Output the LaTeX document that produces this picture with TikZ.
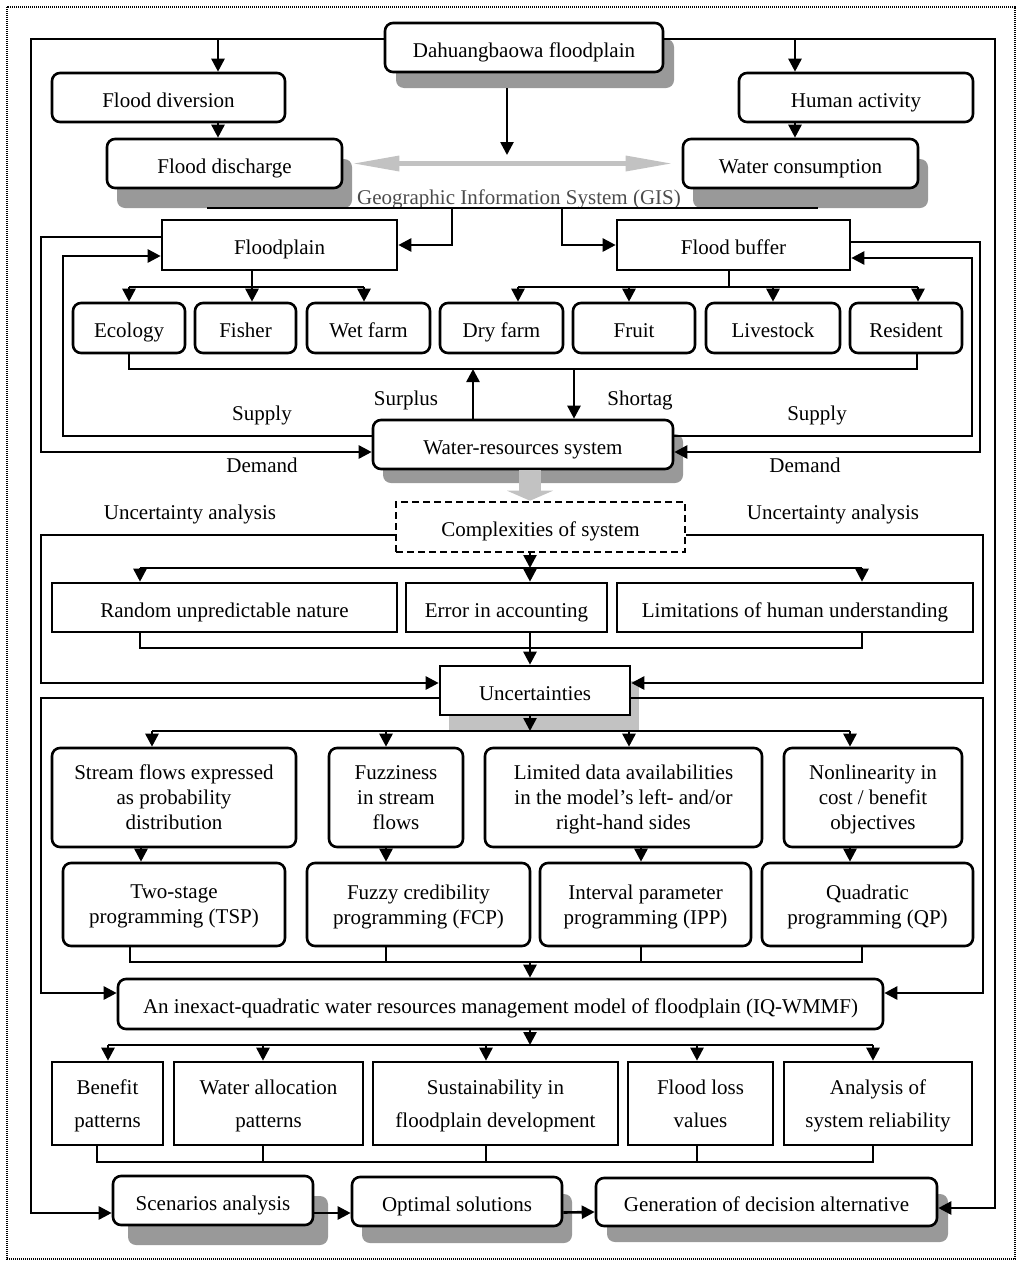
\documentclass[tikz,border=0pt]{standalone}
\usepackage{fontspec}
\setmainfont{Liberation Serif}
\usetikzlibrary{arrows.meta,shadows}
\definecolor{shdgray}{gray}{0.6}
\definecolor{ltgray}{gray}{0.76}
\definecolor{gistext}{gray}{0.3}
\begin{document}
\begin{tikzpicture}[x=1pt,y=-1pt,
  font=\fontsize{21}{25}\selectfont,
  every node/.style={inner sep=0pt,align=center},
  mbox/.style={draw,line width=2.6pt,fill=white,text depth=0pt},
  box/.style={draw,line width=2.6pt,fill=white,minimum height=49pt,text height=20pt,text depth=1pt},
  rbox/.style={box,rounded corners=8pt},
  rmbox/.style={mbox,rounded corners=8pt},
  shd/.style 2 args={general shadow={fill=shdgray,shadow xshift=#1pt,shadow yshift=-#2pt}},
  conn/.style={line width=2.6pt},
  myarr/.style={conn,-{Triangle[length=13pt,width=13pt]}},
  outbox/.style={mbox,font=\fontsize{21}{33}\selectfont,minimum height=83pt}
]
\useasboundingbox (0,0) rectangle (1024,1264);
\draw[line width=2.4pt,dash pattern=on 1.2pt off 0.8pt] (7,7) rectangle (1015,1259);

% ---------- nodes ----------
\node[rbox,shd={11}{16},minimum width=278pt] (dah) at (524,47.5) {Dahuangbaowa floodplain};
\node[rbox,minimum width=233pt] (fdiv) at (168.5,97.5) {Flood diversion};
\node[rbox,minimum width=234pt] (human) at (856,97.5) {Human activity};
\node[rbox,shd={10}{20},minimum width=235pt] (fdis) at (224.5,163.5) {Flood discharge};
\node[rbox,shd={10}{20},minimum width=235pt] (wcons) at (800.5,163.5) {Water consumption};
\node[text=gistext] (gis) at (519,199) {Geographic Information System (GIS)};
\node[box,minimum width=235pt,minimum height=50pt] (fp) at (279.5,245) {Floodplain};
\node[box,minimum width=233pt,minimum height=50pt] (fb) at (733.5,245) {Flood buffer};

\node[rbox,minimum height=50pt,minimum width=112pt] (eco) at (129,328) {Ecology};
\node[rbox,minimum height=50pt,minimum width=101pt] (fisher) at (245.5,328) {Fisher};
\node[rbox,minimum height=50pt,minimum width=123pt] (wet) at (368.5,328) {Wet farm};
\node[rbox,minimum height=50pt,minimum width=123pt] (dry) at (501.5,328) {Dry farm};
\node[rbox,minimum height=50pt,minimum width=122pt] (fruit) at (634,328) {Fruit};
\node[rbox,minimum height=50pt,minimum width=134pt] (live) at (773,328) {Livestock};
\node[rbox,minimum height=50pt,minimum width=112pt] (res) at (906,328) {Resident};

\node[rbox,shd={10}{14},minimum width=300pt] (wr) at (523,444.5) {Water-resources system};

\node (lsup1) at (262,415) {Supply};
\node (ldem1) at (262,465) {Demand};
\node (lsup2) at (817,415) {Supply};
\node (ldem2) at (805,465) {Demand};
\node (lsur) at (406,400) {Surplus};
\node (lsho) at (640,400) {Shortag};
\node (lua1) at (190,514) {Uncertainty analysis};
\node (lua2) at (833,514) {Uncertainty analysis};

\node[box,dash pattern=on 7pt off 4pt,minimum width=289pt,minimum height=50pt] (cx) at (540.5,527) {Complexities of system};
\node[box,minimum width=345pt] (rnd) at (224.5,607.5) {Random unpredictable nature};
\node[box,minimum width=201pt] (err) at (506.5,607.5) {Error in accounting};
\node[box,minimum width=356pt] (lim) at (795,607.5) {Limitations of human understanding};
\node[box,general shadow={fill=ltgray,shadow xshift=9pt,shadow yshift=-15pt},minimum width=190pt] (unc) at (535,690.5) {Uncertainties};

\node[rmbox,minimum width=244pt,minimum height=99pt] (sf) at (174,797.5) {Stream flows expressed\\as probability\\distribution};
\node[rmbox,minimum width=134pt,minimum height=99pt] (fz) at (396,797.5) {Fuzziness\\in stream\\flows};
\node[rmbox,minimum width=277pt,minimum height=99pt] (ld) at (623.5,797.5) {Limited data availabilities\\in the model's left- and/or\\right-hand sides};
\node[rmbox,minimum width=178pt,minimum height=99pt] (nl) at (873,797.5) {Nonlinearity in\\cost / benefit\\objectives};

\node[rmbox,minimum width=222pt,minimum height=83pt] (tsp) at (174,904.5) {Two-stage\\programming (TSP)};
\node[rmbox,minimum width=223pt,minimum height=83pt] (fcp) at (418.5,904.5) {Fuzzy credibility\\programming (FCP)};
\node[rmbox,minimum width=211pt,minimum height=83pt] (ipp) at (645.5,904.5) {Interval parameter\\programming (IPP)};
\node[rmbox,minimum width=211pt,minimum height=83pt] (qp) at (867.5,904.5) {Quadratic\\programming (QP)};

\node[rbox,minimum width=765pt,minimum height=50pt] (iq) at (500.5,1004) {An inexact-quadratic water resources management model of floodplain (IQ-WMMF)};

\node[outbox,minimum width=111pt] (ben) at (107.5,1103.5) {Benefit\\patterns};
\node[outbox,minimum width=189pt] (wal) at (268.5,1103.5) {Water allocation\\patterns};
\node[outbox,minimum width=245pt] (sus) at (495.5,1103.5) {Sustainability in\\floodplain development};
\node[outbox,minimum width=145pt] (fl) at (700.5,1103.5) {Flood loss\\values};
\node[outbox,minimum width=188pt] (asr) at (878,1103.5) {Analysis of\\system reliability};

\node[rbox,shd={15}{20},minimum width=200pt] (scen) at (213,1200.5) {Scenarios analysis};
\node[rbox,shd={10}{17},minimum width=210pt] (opt) at (457,1201.5) {Optimal solutions};
\node[rbox,shd={11}{16},minimum width=341pt,minimum height=48pt] (gen) at (766.5,1202) {Generation of decision alternative};

% ---------- connectors ----------
\draw[myarr] ([yshift=8.5pt]dah.west) -- (31,39) -- (31,1213) -- ([yshift=-12.5pt]scen.west);
\draw[myarr] ([yshift=8.5pt]dah.east) -- (995,39) -- (995,1208) -- ([yshift=-6pt]gen.east);
\coordinate (a1) at (218,39);
\draw[myarr] (a1) -- (a1 |- fdiv.north);
\draw[myarr] (a1 |- fdiv.south) -- (a1 |- fdis.north);
\coordinate (a2) at (795,39);
\draw[myarr] (a2) -- (a2 |- human.north);
\draw[myarr] (a2 |- human.south) -- (a2 |- wcons.north);
\coordinate (a3) at (507,88);
\coordinate (a4) at (507,155);
\draw[myarr] (a3) -- (a4);

\draw[line width=5pt,ltgray,{Triangle[length=45pt,width=16pt,line width=0pt]}-{Triangle[length=45pt,width=16pt,line width=0pt]},shorten <=11pt,shorten >=11pt] (fdis.east) -- (wcons.west);

\coordinate (g1) at (207,208);
\coordinate (g2) at (818,208);
\draw[conn] (g1) -- (g2);
\coordinate (b1) at (452,208);
\coordinate (b2) at (562,208);
\draw[myarr] (b1) |- (fp.east);
\draw[myarr] (b2) |- (fb.west);

\draw[myarr] ([yshift=8pt]fp.west) -| (41,452) -- ([yshift=-7.5pt]wr.west);
\draw[myarr] ([yshift=8.5pt]wr.west) -| (63,256) -- ([yshift=-11pt]fp.west);
\draw[myarr] ([yshift=3pt]fb.east) -| (980,452) -- ([yshift=-7.5pt]wr.east);
\draw[myarr] ([yshift=8.5pt]wr.east) -| (972,258) -- ([yshift=-13pt]fb.east);

\coordinate (s1) at (252,287);
\coordinate (s2) at (364,287);
\draw[conn] (s1 |- fp.south) -- (s1);
\draw[conn] (eco.north |- s1) -- (s2);
\draw[myarr] (eco.north |- s1) -- (eco.north);
\draw[myarr] (s1) -- (s1 |- fisher.north);
\draw[myarr] (s2) -- (s2 |- wet.north);

\coordinate (t0) at (729,287);
\coordinate (t1) at (518,287);
\coordinate (t2) at (629,287);
\coordinate (t3) at (773,287);
\coordinate (t4) at (918,287);
\draw[conn] (t0 |- fb.south) -- (t0);
\draw[conn] (t1) -- (t4);
\draw[myarr] (t1) -- (t1 |- dry.north);
\draw[myarr] (t2) -- (t2 |- fruit.north);
\draw[myarr] (t3) -- (t3 |- live.north);
\draw[myarr] (t4) -- (t4 |- res.north);

\coordinate (c1) at (129,369);
\coordinate (c2) at (917,369);
\draw[conn] (eco.south) -- (c1) -- (c2) -- (c2 |- res.south);
\coordinate (sp) at (473,369);
\draw[myarr] (sp |- wr.north) -- (sp);
\coordinate (sg) at (574,369);
\draw[myarr] (sg) -- (sg |- wr.north);

\coordinate (ga) at (530,470);
\draw[line width=22pt,ltgray,-{Triangle[length=10pt,width=46pt,line width=0pt]}] (ga) -- (ga |- cx.north);

\draw[myarr] ([yshift=-8pt]cx.west) -| (41,683) -- ([yshift=7.5pt]unc.west);
\draw[myarr] ([yshift=-8pt]cx.east) -| (983,683) -- ([yshift=7.5pt]unc.east);

\coordinate (k0) at (140,568);
\coordinate (k1) at (530,568);
\coordinate (k2) at (862,568);
\draw[myarr] (k1 |- cx.south) -- (k1);
\draw[conn] (k0) -- (k2);
\draw[myarr] (k0) -- (k0 |- rnd.north);
\draw[myarr] (k1) -- (k1 |- err.north);
\draw[myarr] (k2) -- (k2 |- lim.north);
\coordinate (m0) at (140,648);
\coordinate (m1) at (530,648);
\coordinate (m2) at (862,648);
\draw[conn] (m0 |- rnd.south) -- (m0) -- (m2) -- (m2 |- lim.south);
\draw[myarr] (m1 |- err.south) -- (m1 |- unc.north);

\draw[myarr] ([yshift=-7.5pt]unc.west) -| (41,993) -- ([yshift=11pt]iq.west);
\draw[myarr] ([yshift=-7.5pt]unc.east) -| (983,993) -- ([yshift=11pt]iq.east);

\coordinate (n0) at (152,731);
\coordinate (na) at (530,731);
\coordinate (nb) at (386,731);
\coordinate (nc) at (629,731);
\coordinate (nd) at (850,731);
\draw[myarr] (na |- unc.south) -- (na);
\draw[conn] (n0) -- (nd);
\draw[myarr] (n0) -- (n0 |- sf.north);
\draw[myarr] (nb) -- (nb |- fz.north);
\draw[myarr] (nc) -- (nc |- ld.north);
\draw[myarr] (nd) -- (nd |- nl.north);

\coordinate (q1) at (141,0);
\coordinate (q2) at (386,0);
\coordinate (q3) at (641,0);
\coordinate (q4) at (850,0);
\draw[myarr] (q1 |- sf.south) -- (q1 |- tsp.north);
\draw[myarr] (q2 |- fz.south) -- (q2 |- fcp.north);
\draw[myarr] (q3 |- ld.south) -- (q3 |- ipp.north);
\draw[myarr] (q4 |- nl.south) -- (q4 |- qp.north);

\coordinate (r1) at (130,962);
\coordinate (r2) at (386,962);
\coordinate (r3) at (641,962);
\coordinate (r4) at (862,962);
\coordinate (r5) at (530,962);
\draw[conn] (r1 |- tsp.south) -- (r1) -- (r4) -- (r4 |- qp.south);
\draw[conn] (r2 |- fcp.south) -- (r2);
\draw[conn] (r3 |- ipp.south) -- (r3);
\draw[myarr] (r5) -- (r5 |- iq.north);

\coordinate (u0) at (530,1045);
\coordinate (u1) at (108,1045);
\coordinate (u2) at (263,1045);
\coordinate (u3) at (486,1045);
\coordinate (u4) at (697,1045);
\coordinate (u5) at (873,1045);
\draw[myarr] (u0 |- iq.south) -- (u0);
\draw[conn] (u1) -- (u5);
\draw[myarr] (u1) -- (u1 |- ben.north);
\draw[myarr] (u2) -- (u2 |- wal.north);
\draw[myarr] (u3) -- (u3 |- sus.north);
\draw[myarr] (u4) -- (u4 |- fl.north);
\draw[myarr] (u5) -- (u5 |- asr.north);

\coordinate (v1) at (97,1162);
\coordinate (v2) at (263,1162);
\coordinate (v3) at (486,1162);
\coordinate (v4) at (697,1162);
\coordinate (v5) at (873,1162);
\draw[conn] (v1 |- ben.south) -- (v1) -- (v5) -- (v5 |- asr.south);
\draw[conn] (v2 |- wal.south) -- (v2);
\draw[conn] (v3 |- sus.south) -- (v3);
\draw[conn] (v4 |- fl.south) -- (v4);

\draw[myarr] ([yshift=-12.5pt]scen.east) -- ([yshift=-11.5pt]opt.west);
\draw[myarr] ([yshift=-11pt]opt.east) -- ([yshift=-10pt]gen.west);
\end{tikzpicture}
\end{document}
